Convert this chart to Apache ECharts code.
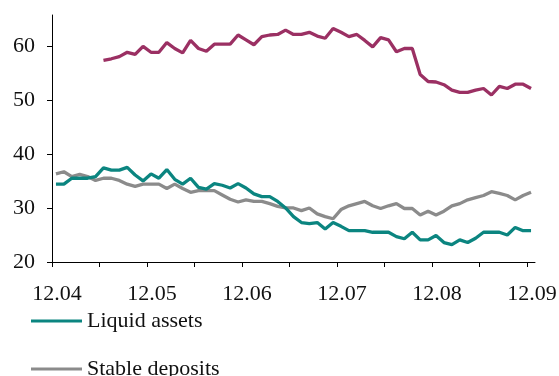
<!DOCTYPE html>
<html>
<head>
<meta charset="utf-8">
<script src="https://cdn.jsdelivr.net/npm/echarts@6/dist/echarts.min.js"></script>
<style>
  html, body { margin: 0; padding: 0; background: #fff; }
  #container { width: 559px; height: 376px; }
</style>
</head>
<body>
<div id="container"></div>
<script>
// observations (61 points, 12.04 -> 12.09)
var periods = [];
for (var k = 0; k < 61; k++) periods.push(String(k));

var liquidAssets = [
    34.4, 34.4, 35.5, 35.5, 35.5, 35.8, 37.4, 37.0, 37.0, 37.5,
    36.1, 35.0, 36.3, 35.5, 37.1, 35.3, 34.4, 35.5, 33.8, 33.5,
    34.5, 34.2, 33.7, 34.5, 33.7, 32.6, 32.1, 32.1, 31.2, 30.0,
    28.4, 27.3, 27.1, 27.3, 26.1, 27.3, 26.6, 25.8, 25.8, 25.8,
    25.5, 25.5, 25.5, 24.7, 24.3, 25.5, 24.1, 24.1, 24.9, 23.6,
    23.2, 24.1, 23.6, 24.4, 25.5, 25.5, 25.5, 25.0, 26.4, 25.8,
    25.8
];
var stableDeposits = [
    36.3, 36.7, 35.8, 36.2, 35.8, 35.1, 35.5, 35.5, 35.1, 34.4,
    34.0, 34.4, 34.4, 34.4, 33.6, 34.4, 33.6, 32.9, 33.2, 33.2,
    33.2, 32.4, 31.6, 31.1, 31.5, 31.2, 31.2, 30.8, 30.3, 30.0,
    30.0, 29.5, 30.0, 28.9, 28.4, 28.0, 29.7, 30.4, 30.8, 31.2,
    30.4, 29.9, 30.4, 30.8, 29.9, 29.9, 28.7, 29.4, 28.7, 29.4,
    30.4, 30.8, 31.5, 31.9, 32.3, 33.0, 32.7, 32.3, 31.5, 32.3,
    32.9
];
var ratio = [
    null, null, null, null, null, null, 57.3, 57.6, 58.0, 58.8,
    58.4, 59.9, 58.8, 58.8, 60.6, 59.5, 58.7, 61.0, 59.5, 59.0,
    60.3, 60.3, 60.3, 62.0, 61.1, 60.2, 61.7, 62.0, 62.1, 62.9,
    62.1, 62.1, 62.5, 61.8, 61.4, 63.2, 62.5, 61.7, 62.1, 61.0,
    59.8, 61.5, 61.1, 58.9, 59.5, 59.5, 54.7, 53.4, 53.3, 52.8,
    51.8, 51.4, 51.4, 51.8, 52.1, 50.9, 52.5, 52.1, 52.9, 52.9,
    52.1
];

// month axis (12.04 = 4 ... 12.09 = 9)
var monthTicks = [4, 4.5, 5, 5.5, 6, 6.5, 7, 7.5, 8, 8.5, 9];
var monthLabels = [4, 5, 6, 7, 8, 9];
var yTicks = [20, 30, 40, 50, 60];

var font = "Liberation Serif";

function legendBox(name, top) {
    return {
        orient: "vertical",
        left: 26,
        top: top,
        icon: "rect",
        itemWidth: 51,
        itemHeight: 3,
        data: [name],
        textStyle: { fontFamily: font, fontSize: 22, color: "#111" }
    };
}

window.onload = function() {
    var myChart = echarts.init(document.getElementById("container"));
    myChart.setOption({
        animation: false,
        backgroundColor: "#fff",
        grid: {
            left: 52,
            right: 24,
            top: 15,
            bottom: 114,
            containLabel: false,
            outerBoundsMode: "none"
        },
        // one legend box per item so the second one is not moved into a new column
        legend: [legendBox("Liquid assets", 305), legendBox("Stable deposits", 353)],
        xAxis: [{
            type: "category",
            data: periods,
            boundaryGap: true,
            show: false
        }, {
            type: "value",
            position: "bottom",
            min: 4,
            max: 9.084,
            interval: 0.5,
            axisLine: { show: true, lineStyle: { color: "#000", width: 1 } },
            axisTick: { show: true, length: 5, customValues: monthTicks, lineStyle: { color: "#000" } },
            axisLabel: {
                customValues: monthLabels,
                margin: 21,
                padding: [0, 0, 0, 10],
                fontFamily: font,
                fontSize: 22,
                color: "#111",
                formatter: function(v) { return "12.0" + v; }
            },
            splitLine: { show: false }
        }],
        yAxis: {
            type: "value",
            min: 20,
            max: 65.7,
            interval: 10,
            axisLine: { show: true, lineStyle: { color: "#000", width: 1 } },
            axisTick: { show: true, length: 5, customValues: yTicks, lineStyle: { color: "#000" } },
            axisLabel: {
                customValues: yTicks,
                margin: 17,
                fontFamily: font,
                fontSize: 22,
                color: "#111"
            },
            splitLine: { show: false }
        },
        series: [{
            name: "Ratio",
            type: "line",
            xAxisIndex: 0,
            data: ratio,
            symbol: "none",
            lineStyle: { color: "#9b3063", width: 3.3 },
            itemStyle: { color: "#9b3063" }
        }, {
            name: "Stable deposits",
            type: "line",
            xAxisIndex: 0,
            data: stableDeposits,
            symbol: "none",
            lineStyle: { color: "#8b8b8b", width: 3.3 },
            itemStyle: { color: "#8b8b8b" }
        }, {
            name: "Liquid assets",
            type: "line",
            xAxisIndex: 0,
            data: liquidAssets,
            symbol: "none",
            lineStyle: { color: "#0b8580", width: 3.3 },
            itemStyle: { color: "#0b8580" }
        }]
    });
};
</script>
</body>
</html>
